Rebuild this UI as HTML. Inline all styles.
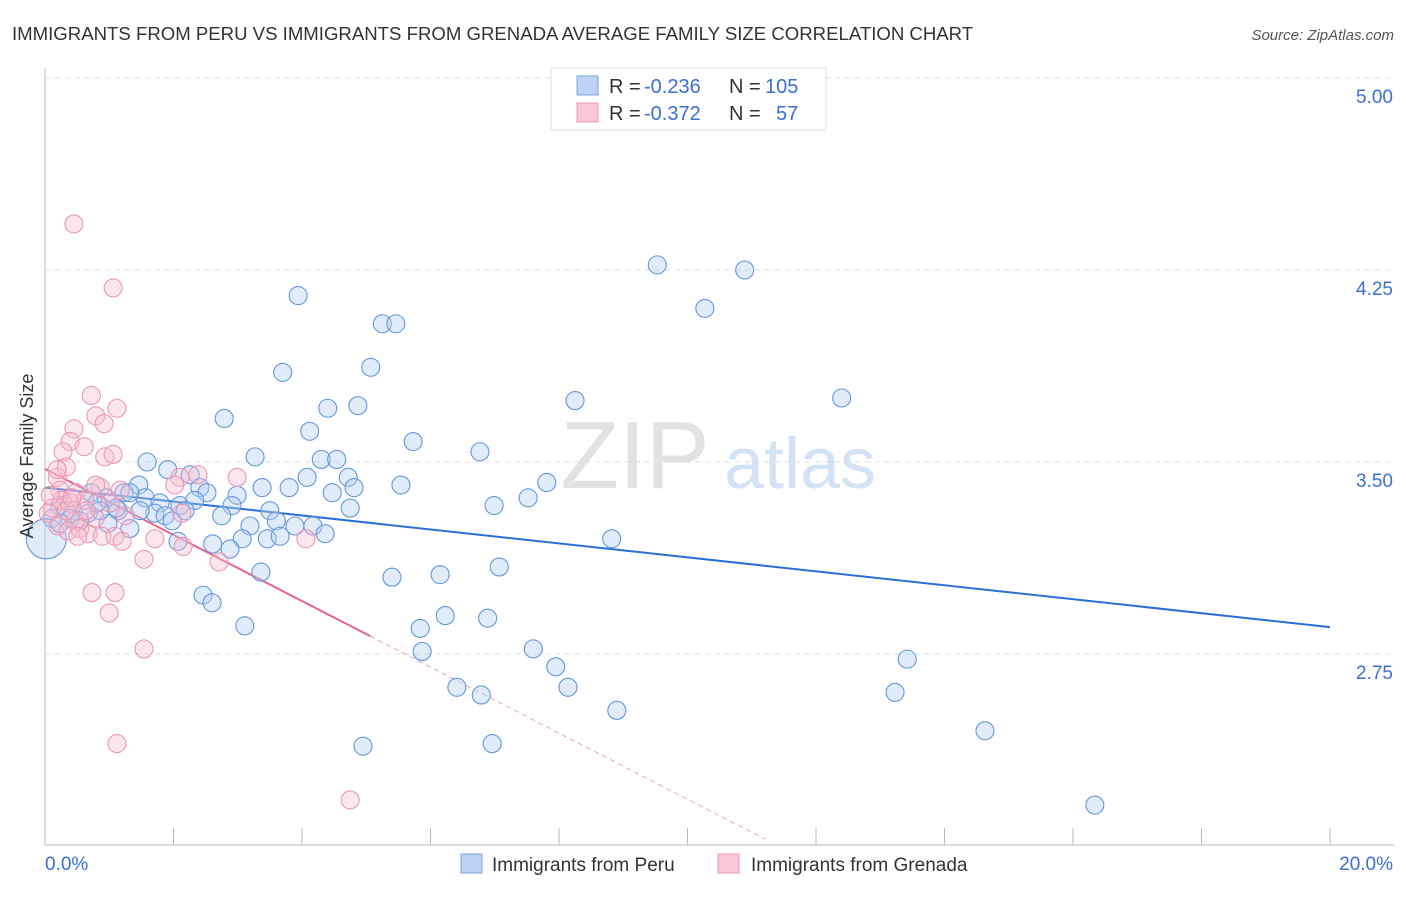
<!DOCTYPE html>
<html><head><meta charset="utf-8"><style>
body{margin:0;background:#fff;font-family:"Liberation Sans",sans-serif;}
svg text{font-family:"Liberation Sans",sans-serif;}
</style></head><body>
<svg id="c" width="1406" height="892" xmlns="http://www.w3.org/2000/svg">
<text x="12" y="40" font-size="18.6" fill="#333">IMMIGRANTS FROM PERU VS IMMIGRANTS FROM GRENADA AVERAGE FAMILY SIZE CORRELATION CHART</text>
<text x="1394" y="40" font-size="15" fill="#555" font-style="italic" text-anchor="end">Source: ZipAtlas.com</text>
<g>
<text x="635" y="488" font-size="96" fill="#e2e2e2" font-family="Liberation Serif" text-anchor="middle">ZIP</text>
<text x="800" y="488" font-size="72" fill="#d3e2f4" text-anchor="middle">atlas</text>
</g>
<g id="grid"></g><g id="axes"></g><g id="trend"></g><g id="pts"></g>
<g>
<rect x="551" y="68" width="275" height="62" fill="#fff" stroke="#ddd"/>
<rect x="577" y="76" width="21" height="19" fill="#bcd3f3" stroke="#7aa4e0"/>
<rect x="577" y="103" width="21" height="19" fill="#f8c6d6" stroke="#eb9ab3"/>
<text x="609" y="93" font-size="20" fill="#333">R =</text>
<text x="644" y="93" font-size="20" fill="#3b6fd4">-0.236</text>
<text x="729" y="93" font-size="20" fill="#333">N =</text>
<text x="765" y="93" font-size="20" fill="#3b6fd4">105</text>
<text x="609" y="120" font-size="20" fill="#333">R =</text>
<text x="644" y="120" font-size="20" fill="#3b6fd4">-0.372</text>
<text x="729" y="120" font-size="20" fill="#333">N =</text>
<text x="776" y="120" font-size="20" fill="#3b6fd4">57</text>
</g>
<g>
<rect x="461" y="854" width="21" height="19" fill="#bcd3f3" stroke="#7aa4e0"/>
<text x="492" y="871" font-size="19" fill="#333">Immigrants from Peru</text>
<rect x="718" y="854" width="21" height="19" fill="#f8c6d6" stroke="#eb9ab3"/>
<text x="751" y="871" font-size="19" fill="#333">Immigrants from Grenada</text>
</g>
<text transform="translate(33,456) rotate(-90)" font-size="18" fill="#333" text-anchor="middle">Average Family Size</text>
</svg>
<script>
const yTicks=[5.00,4.25,3.50,2.75];
const yTickLabels=["5.00","4.25","3.50","2.75"];
const xTicks=[0,2,4,6,8,10,12,14,16,18,20];
const peruX=[9.53,10.89,3.94,10.27,5.25,5.46,3.70,5.07,8.25,12.40,4.40,4.87,2.79,4.12,5.73,6.77,1.59,3.27,4.30,4.54,1.91,2.26,4.08,4.72,7.81,5.54,1.46,2.41,3.38,3.80,4.81,2.52,4.47,7.52,2.99,0.72,0.95,1.23,1.56,1.79,2.10,2.33,2.91,4.75,6.99,3.50,0.23,0.44,0.67,1.14,1.71,1.87,2.18,2.75,3.60,3.19,3.89,4.17,0.39,0.11,0.98,1.32,1.98,4.36,3.07,3.46,3.66,2.61,2.88,2.07,8.82,0.02,3.36,5.40,6.15,7.07,2.46,2.60,6.23,6.89,3.11,5.84,5.87,7.60,7.95,13.42,6.41,6.79,8.14,13.23,8.90,14.63,4.95,6.96,16.34,0.54,0.86,0.23,1.48,1.11,1.32,0.81];
const peruY=[4.27,4.25,4.15,4.10,4.04,4.04,3.85,3.87,3.74,3.75,3.71,3.72,3.67,3.62,3.58,3.54,3.50,3.52,3.51,3.51,3.47,3.45,3.44,3.44,3.42,3.41,3.41,3.40,3.40,3.40,3.40,3.38,3.38,3.36,3.37,3.38,3.36,3.38,3.36,3.34,3.33,3.35,3.33,3.32,3.33,3.31,3.33,3.31,3.30,3.31,3.30,3.29,3.31,3.29,3.27,3.25,3.25,3.25,3.28,3.28,3.26,3.24,3.27,3.22,3.20,3.20,3.21,3.18,3.16,3.19,3.20,3.20,3.07,3.05,3.06,3.09,2.98,2.95,2.90,2.89,2.86,2.85,2.76,2.77,2.70,2.73,2.62,2.59,2.62,2.60,2.53,2.45,2.39,2.40,2.16,3.27,3.31,3.26,3.31,3.32,3.38,3.34];
const grenX=[0.45,1.06,0.72,1.12,0.79,0.92,0.45,0.39,0.61,0.28,0.93,1.06,0.33,0.19,2.99,2.38,2.10,0.23,0.48,0.86,1.17,2.02,0.26,0.62,0.11,0.39,0.05,1.01,1.25,2.13,0.47,0.78,0.20,0.36,0.54,0.67,0.89,1.09,0.51,1.71,1.20,2.15,4.06,2.71,1.54,0.73,1.09,1.00,1.54,1.12,4.75,0.33,0.08,0.64,0.42,0.19,0.79];
const grenY=[4.43,4.18,3.76,3.71,3.68,3.65,3.63,3.58,3.56,3.54,3.52,3.53,3.48,3.44,3.44,3.45,3.44,3.39,3.38,3.40,3.39,3.41,3.35,3.35,3.32,3.34,3.30,3.34,3.29,3.30,3.27,3.28,3.25,3.23,3.24,3.22,3.21,3.21,3.21,3.20,3.19,3.17,3.20,3.11,3.12,2.99,2.99,2.91,2.77,2.40,2.18,3.31,3.37,3.31,3.36,3.47,3.41];
const peruTrend=[3.40,2.855];
const grenTrend=[3.473,-0.129];
const grenSolidEnd=5.06, grenDashEnd=11.21;

const NS="http://www.w3.org/2000/svg";
const X=v=>45+v*64.25, Y=v=>462-(v-3.5)*256;
function mk(tag,attrs,parent){const e=document.createElementNS(NS,tag);for(const k in attrs)e.setAttribute(k,attrs[k]);document.getElementById(parent).appendChild(e);return e;}
yTicks.forEach((t,i)=>{
 const l=mk('line',{x1:45,x2:1394,y1:Y(t),y2:Y(t),stroke:'#ddd','stroke-dasharray':'5,5'},'grid');
 
 
 const tx=mk('text',{x:1393,y:Y(t)+25,'font-size':19,fill:'#3b6fd4','text-anchor':'end'},'grid');
 tx.textContent=yTickLabels[i];
 
 
});
const ya=mk('line',{x1:45,x2:45,y1:68,y2:845,stroke:'#bbb'},'axes');


const xa=mk('line',{x1:45,x2:1394,y1:845,y2:845,stroke:'#bbb'},'axes');


xTicks.forEach(t=>{
 const l=mk('line',{x1:X(t),x2:X(t),y1:828,y2:845,stroke:'#bbb'},'axes');
 
 
});
const x0=mk('text',{x:45,y:870,'font-size':19,fill:'#3b6fd4'},'axes');x0.textContent='0.0%';


const x1=mk('text',{x:1393,y:870,'font-size':19,fill:'#3b6fd4','text-anchor':'end'},'axes');x1.textContent='20.0%';


peruX.forEach((x,i)=>{
 const big=(i===71);
 const c=mk('circle',{cx:X(x),cy:Y(peruY[i]),r:big?20:9,fill:'#b4cff2','fill-opacity':0.4,stroke:'#6396de','stroke-width':1.1},'pts');
 
 
});
grenX.forEach((x,i)=>{
 const c=mk('circle',{cx:X(x),cy:Y(grenY[i]),r:9,fill:'#f7bdd0','fill-opacity':0.38,stroke:'#ea98b2','stroke-width':1.1},'pts');
 
 
});
const tb=mk('line',{x1:X(0),y1:Y(peruTrend[0]),x2:X(20),y2:Y(peruTrend[1]),stroke:'#2a6fd6','stroke-width':2},'trend');


const gy=x=>grenTrend[0]+grenTrend[1]*x;
const tp=mk('line',{x1:X(0),y1:Y(gy(0)),x2:X(grenSolidEnd),y2:Y(gy(grenSolidEnd)),stroke:'#e8638f','stroke-width':2},'trend');


const td=mk('line',{x1:X(grenSolidEnd),y1:Y(gy(grenSolidEnd)),x2:X(grenDashEnd),y2:Y(gy(grenDashEnd)),stroke:'#e8a0b8','stroke-width':1,'stroke-dasharray':'5,4'},'trend');


</script>
</body></html>
